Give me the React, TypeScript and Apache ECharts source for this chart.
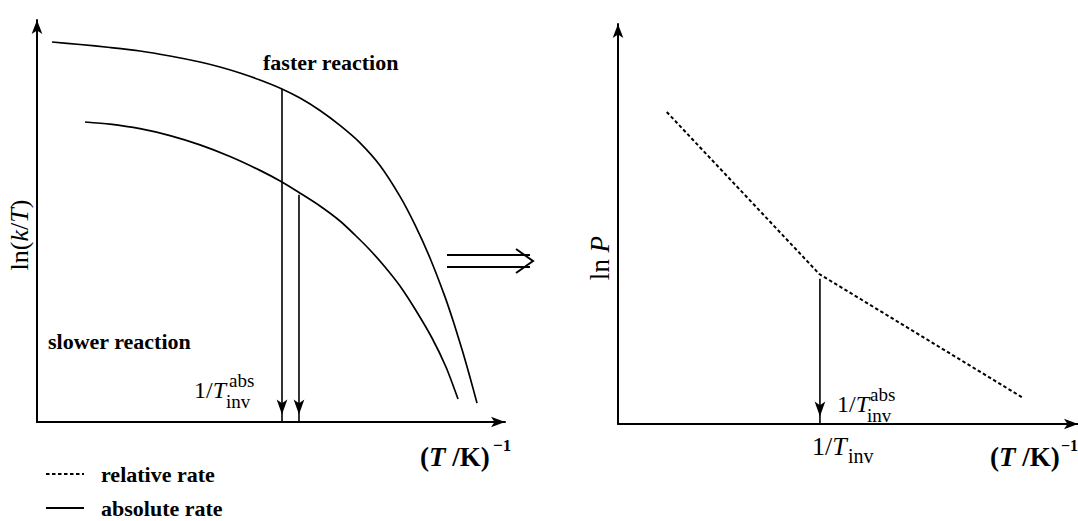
import React, { useEffect, useRef } from "react";
import * as echarts from "echarts";

// Left panel: ln(k/T) vs (T/K)^-1, arbitrary units 0..100
const fasterX = [3.21, 9.19, 15.6, 22.01, 28.42, 34.83, 39.1, 43.38, 47.65, 52.35, 56.2, 60.47, 64.74, 69.02, 73.29, 77.56, 80.77, 83.97, 87.18, 89.1, 91.03, 92.52, 94.02];
const fasterY = [94.53, 93.91, 93.16, 92.29, 91.04, 89.55, 88.31, 86.82, 85.07, 82.84, 80.57, 77.49, 73.78, 69.45, 63.81, 56.12, 49.03, 40.8, 31.12, 24.48, 17.21, 11.14, 4.7];
const slowerX = [10.26, 15.6, 22.01, 28.42, 34.83, 41.24, 47.65, 52.35, 55.98, 60.47, 64.74, 67.95, 71.15, 74.36, 77.56, 80.77, 84.4, 87.39, 89.96];
const slowerY = [74.63, 74.1, 72.96, 71.24, 68.93, 66.04, 62.59, 59.7, 57.09, 53.73, 50.0, 46.52, 42.79, 38.56, 33.83, 28.11, 20.9, 13.68, 5.72];
// arrows marking 1/T_inv^abs on the left panel
const leftArrowX = [52.35, 55.98];
const leftArrowTop = [82.84, 56.5];

// Right panel: ln P vs (T/K)^-1 (relative rate)
const relX = [10.6, 43.75, 88.1];
const relY = [78.0, 37.5, 6.5];
const rightArrowX = 43.9;
const rightArrowTop = 36.3;

const SERIF = "Liberation Serif";
const BLACK = "#000";

function axisPair(grid: number) {
  const line = {
    show: true,
    onZero: false,
    symbol: ["none", "arrow"],
    symbolSize: [8, 14],
    lineStyle: { color: BLACK, width: 2 },
  };
  const common = {
    gridIndex: grid,
    type: "value" as const,
    min: 0,
    max: 100,
    axisLine: line,
    axisTick: { show: false },
    axisLabel: { show: false },
    splitLine: { show: false },
  };
  return { x: { ...common }, y: { ...common } };
}

function arrowSeries(name: string, idx: number, x: number, top: number) {
  return {
    type: "line",
    name,
    xAxisIndex: idx,
    yAxisIndex: idx,
    clip: false,
    silent: true,
    lineStyle: { color: BLACK, width: 1.6 },
    itemStyle: { color: BLACK },
    data: [
      { value: [x, top], symbol: "none" },
      {
        value: [x, 0],
        symbol: "arrow",
        symbolRotate: 180,
        symbolSize: [8, 15],
        symbolOffset: [0, "-50%"],
      },
    ],
  };
}

function txt(x: number, y: number, text: string, size: number, extra: any = {}) {
  return {
    type: "text",
    x,
    y,
    silent: true,
    style: {
      text,
      fontFamily: SERIF,
      fontSize: size,
      fill: BLACK,
      align: "left",
      verticalAlign: "middle",
      ...extra,
    },
  };
}

function oneOverT(size: number) {
  return {
    rich: {
      r: { fontFamily: SERIF, fontSize: size, fill: BLACK },
      i: { fontFamily: SERIF, fontSize: size, fill: BLACK, fontStyle: "italic" },
    },
  };
}

function tOverK(size: number) {
  return {
    rich: {
      r: { fontFamily: SERIF, fontSize: size, fill: BLACK, fontWeight: "bold" },
      i: { fontFamily: SERIF, fontSize: size, fill: BLACK, fontWeight: "bold", fontStyle: "italic" },
    },
  };
}

export default function App() {
  const ref = useRef<HTMLDivElement>(null);
  useEffect(() => {
    if (!ref.current) return;
    const chart = echarts.init(ref.current, undefined, { renderer: "svg" });
    const a0 = axisPair(0);
    const a1 = axisPair(1);
    const option: any = {
      animation: false,
      backgroundColor: "#fff",
      grid: [
        { left: 37, top: 20, width: 468, height: 402 },
        { left: 618, top: 24, width: 480, height: 400 },
      ],
      xAxis: [a0.x, a1.x],
      yAxis: [a0.y, a1.y],
      legend: {
        data: ["relative rate", "absolute rate"],
        orient: "vertical",
        left: 45,
        top: 463,
        height: 100,
        padding: 0,
        itemWidth: 38,
        itemHeight: 14,
        itemGap: 12,
        selectedMode: false,
        itemStyle: { opacity: 0 },
        textStyle: {
          fontFamily: SERIF,
          fontWeight: "bold",
          fontSize: 22,
          color: BLACK,
          padding: [0, 0, 0, 12],
        },
      },
      series: [
        {
          type: "line",
          name: "absolute rate",
          xAxisIndex: 0,
          yAxisIndex: 0,
          smooth: 0.25,
          symbol: "none",
          lineStyle: { color: BLACK, width: 1.7 },
          itemStyle: { color: BLACK },
          data: fasterX.map((x, i) => [x, fasterY[i]]),
        },
        {
          type: "line",
          name: "absolute rate",
          xAxisIndex: 0,
          yAxisIndex: 0,
          smooth: 0.25,
          symbol: "none",
          lineStyle: { color: BLACK, width: 1.7 },
          itemStyle: { color: BLACK },
          data: slowerX.map((x, i) => [x, slowerY[i]]),
        },
        {
          type: "line",
          name: "relative rate",
          xAxisIndex: 1,
          yAxisIndex: 1,
          symbol: "none",
          lineStyle: { color: BLACK, width: 2, type: [3.5, 2.5] },
          itemStyle: { color: BLACK },
          data: relX.map((x, i) => [x, relY[i]]),
        },
        arrowSeries("arrowA", 0, leftArrowX[0], leftArrowTop[0]),
        arrowSeries("arrowB", 0, leftArrowX[1], leftArrowTop[1]),
        arrowSeries("arrowC", 1, rightArrowX, rightArrowTop),
      ],
      graphic: [
        // double arrow between the panels
        { type: "line", shape: { x1: 447, y1: 255, x2: 530, y2: 255 }, style: { stroke: BLACK, lineWidth: 2 } },
        { type: "line", shape: { x1: 447, y1: 267, x2: 530, y2: 267 }, style: { stroke: BLACK, lineWidth: 2 } },
        {
          type: "polyline",
          shape: { points: [[516, 249], [533, 261], [516, 273]] },
          style: { stroke: BLACK, lineWidth: 2, fill: null },
        },
        // panel labels
        txt(263, 62, "faster reaction", 22, { fontWeight: "bold" }),
        txt(48, 341, "slower reaction", 22, { fontWeight: "bold" }),
        {
          type: "text",
          x: 19,
          y: 235,
          rotation: Math.PI / 2,
          style: {
            text: "{r|ln(}{i|k}{r|/}{i|T}{r|)}",
            align: "center",
            verticalAlign: "middle",
            fill: BLACK,
            ...oneOverT(26),
          },
        },
        {
          type: "text",
          x: 600,
          y: 258,
          rotation: Math.PI / 2,
          style: {
            text: "{r|ln }{i|P}",
            align: "center",
            verticalAlign: "middle",
            fill: BLACK,
            ...oneOverT(27),
          },
        },
        // left 1/T_inv^abs
        txt(194, 390, "{r|1/}{i|T}", 24, oneOverT(24)),
        txt(229, 380, "abs", 19),
        txt(226, 401, "inv", 19),
        // right 1/T_inv^abs
        txt(837, 404, "{r|1/}{i|T}", 24, oneOverT(24)),
        txt(870, 394, "abs", 19),
        txt(867, 415, "inv", 19),
        // right 1/T_inv under axis
        txt(812, 446, "{r|1/}{i|T}", 26, oneOverT(26)),
        txt(848, 456, "inv", 20),
        // (T/K)^-1 labels
        txt(420, 457, "{r|(}{i|T}{r| /K)}", 27, tOverK(27)),
        txt(493, 445, "−1", 17, { fontWeight: "bold" }),
        txt(990, 457, "{r|(}{i|T}{r| /K)}", 27, tOverK(27)),
        txt(1061, 445, "−1", 16, { fontWeight: "bold" }),
      ],
    };
    chart.setOption(option);
    return () => chart.dispose();
  }, []);
  return (
    <div
      ref={ref}
      style={{ position: "absolute", left: 0, top: 0, width: 1078, height: 521, background: "#fff" }}
    />
  );
}
